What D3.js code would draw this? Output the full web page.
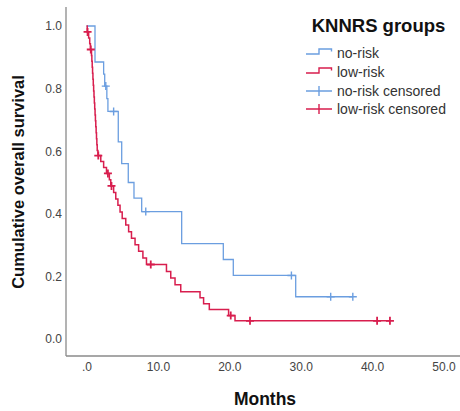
<!DOCTYPE html>
<html><head><meta charset="utf-8">
<script src="https://cdn.jsdelivr.net/npm/d3@7"></script>
<style>
html,body{margin:0;padding:0;background:#fff;}
svg{display:block;font-family:"Liberation Sans",Arial,sans-serif;}
</style></head>
<body><svg id="c" width="460" height="411"></svg>
<script>
// ---- data ----
const groups = ["no-risk", "low-risk"];
const noRiskTimes = [1.19, 2.4, 2.55, 2.85, 3.0, 4.45, 4.93, 5.85, 6.65, 7.73, 13.33, 19.16, 20.56, 29.3];
const noRiskSurv  = [0.885, 0.846, 0.808, 0.768, 0.727, 0.63, 0.56, 0.50, 0.45, 0.407, 0.305, 0.254, 0.203, 0.135];
const noRiskCensorTimes = [2.7, 3.8, 8.3, 28.7, 34.2, 37.3];

const lowRiskTimes = [0.1, 0.3, 0.45, 0.55,
  0.7, 0.75, 0.8, 0.85, 0.9, 0.95, 1.0, 1.05, 1.1, 1.15, 1.2, 1.25, 1.3, 1.35, 1.4, 1.45, 1.5, 1.6,
  2.0, 2.4, 2.8, 3.2, 3.4, 3.8, 4.1, 4.4,
  4.7, 5.0, 5.5, 5.9, 6.3, 6.8, 7.3, 7.9, 8.4,
  11.2, 11.8, 12.4, 13.2, 15.9, 16.4, 17.2, 19.9, 20.8];
const lowRiskSurv = [0.981, 0.962, 0.943, 0.925,
  0.906, 0.887, 0.868, 0.849, 0.830, 0.811, 0.792, 0.773, 0.754, 0.735, 0.716, 0.697, 0.678, 0.659, 0.640, 0.621, 0.602, 0.586,
  0.567, 0.548, 0.529, 0.509, 0.489, 0.468, 0.447, 0.427,
  0.406, 0.385, 0.364, 0.343, 0.322, 0.301, 0.280, 0.259, 0.238,
  0.216, 0.195, 0.173, 0.151, 0.132, 0.113, 0.094, 0.075, 0.058];
const lowRiskCensorTimes = [0.15, 0.6, 1.65, 3.0, 3.5, 9.0, 20.2, 22.9, 40.7, 42.5];

const xTicks = [0, 10, 20, 30, 40, 50];
const yTicks = [0, 0.2, 0.4, 0.6, 0.8, 1.0];
const legendTitle = "KNNRS groups";
const legendLabels = ["no-risk", "low-risk", "no-risk censored", "low-risk censored"];
const xTitle = "Months";
const yTitle = "Cumulative overall survival";

const colors = {"no-risk": "#6b9ee0", "low-risk": "#d81e4e"};

// ---- drawing ----
const svg = d3.select("#c");
const x = d3.scaleLinear().domain([0, 50]).range([86.5, 443.5]);
const y = d3.scaleLinear().domain([0, 1]).range([339, 26]);

// axis lines
svg.append("line").attr("x1", 66).attr("x2", 66).attr("y1", 7).attr("y2", 356)
  .attr("stroke", "#8a8a8a").attr("stroke-width", 1.3);
svg.append("line").attr("x1", 66).attr("x2", 460).attr("y1", 356).attr("y2", 356)
  .attr("stroke", "#8a8a8a").attr("stroke-width", 1.3);

const fmt = v => d3.format(".1f")(v).replace(/^0\./, ".");

const ya = svg.append("g").attr("transform", "translate(62,0)")
  .call(d3.axisLeft(y).tickValues(yTicks).tickSize(0).tickFormat(d3.format(".1f")));
ya.select(".domain").remove();
ya.selectAll("text").attr("x", 0).attr("fill", "#444").style("font-size", "12px")
  .style("font-family", "'Liberation Sans',Arial,sans-serif");

const xa = svg.append("g").attr("transform", "translate(0,362)")
  .call(d3.axisBottom(x).tickValues(xTicks).tickSize(0).tickFormat(fmt));
xa.select(".domain").remove();
xa.selectAll("text").attr("y", 0).attr("fill", "#444").style("font-size", "12px")
  .style("font-family", "'Liberation Sans',Arial,sans-serif");

// titles
svg.append("text").attr("x", 265).attr("y", 405).attr("text-anchor", "middle")
  .attr("font-weight", "bold").attr("font-size", 17.5).attr("fill", "#111").text(xTitle);
svg.append("text").attr("transform", "translate(24,182) rotate(-90)").attr("text-anchor", "middle")
  .attr("font-weight", "bold").attr("font-size", 16.5).attr("fill", "#111").text(yTitle);

// step curves
function stepPoints(times, surv, endTime) {
  const pts = [[0, 1]];
  let s = 1;
  times.forEach((t, i) => { pts.push([t, s]); s = surv[i]; pts.push([t, s]); });
  pts.push([endTime, s]);
  return pts;
}
function survAt(times, surv, t) {
  let s = 1;
  times.forEach((tt, i) => { if (tt <= t) s = surv[i]; });
  return s;
}
const series = [
  {name: "no-risk", times: noRiskTimes, surv: noRiskSurv, cens: noRiskCensorTimes},
  {name: "low-risk", times: lowRiskTimes, surv: lowRiskSurv, cens: lowRiskCensorTimes}
];
const line = d3.line().x(d => x(d[0])).y(d => y(d[1]));
series.forEach(sr => {
  const end = d3.max(sr.cens.concat(sr.times));
  svg.append("path").datum(stepPoints(sr.times, sr.surv, end))
    .attr("d", line).attr("fill", "none").attr("stroke", colors[sr.name])
    .attr("stroke-width", sr.name === "low-risk" ? 1.5 : 1.3);
});
series.forEach(sr => {
  const g = svg.append("g");
  sr.cens.forEach(t => {
    const cx = x(t), cy = y(survAt(sr.times, sr.surv, t));
    g.append("path").attr("d", `M${cx - 4},${cy}H${cx + 4}M${cx},${cy - 4}V${cy + 4}`)
      .attr("stroke", colors[sr.name]).attr("stroke-width", sr.name === "low-risk" ? 1.8 : 1.4)
      .attr("fill", "none");
  });
});

// legend
svg.append("text").attr("x", 378.5).attr("y", 32).attr("text-anchor", "middle")
  .attr("font-weight", "bold").attr("font-size", 18.5).attr("fill", "#111").text(legendTitle);
const rowY = [53, 72, 91, 109];
legendLabels.forEach((lab, i) => {
  const c = colors[groups[i % 2]];
  const yy = rowY[i];
  if (i < 2) {
    svg.append("path").attr("d", `M306,${yy + 1}H319V${yy - 4}H331.5V${yy - 1.5}`)
      .attr("fill", "none").attr("stroke", c).attr("stroke-width", 1.4);
  } else {
    svg.append("path").attr("d", `M306,${yy}H332M319,${yy - 5}V${yy + 5}`)
      .attr("fill", "none").attr("stroke", c).attr("stroke-width", 1.4);
  }
  svg.append("text").attr("x", 337).attr("y", yy + 5).attr("font-size", 14)
    .attr("fill", "#333").text(lab);
});
</script>
</body></html>
